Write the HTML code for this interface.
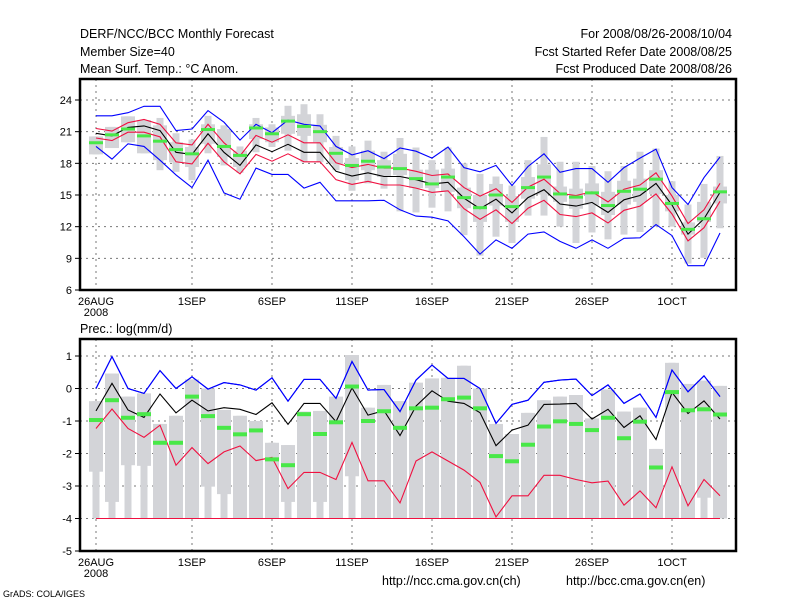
<!DOCTYPE html>
<html><head><meta charset="utf-8">
<style>
html,body{margin:0;padding:0;background:#fff;}
svg{display:block;font-family:"Liberation Sans",sans-serif;}
text{font-size:12.5px;fill:#000;}
.tk{font-size:11px;}
</style></head>
<body>
<svg id="chart" width="800" height="600" viewBox="0 0 800 600" xmlns="http://www.w3.org/2000/svg">
<g>
<text x="80" y="38">DERF/NCC/BCC Monthly Forecast</text>
<text x="80" y="56">Member Size=40</text>
<text x="80" y="73">Mean Surf. Temp.: °C Anom.</text>
<text x="732" y="38" text-anchor="end">For 2008/08/26-2008/10/04</text>
<text x="732" y="56" text-anchor="end">Fcst Started Refer Date 2008/08/25</text>
<text x="732" y="73" text-anchor="end">Fcst Produced Date 2008/08/26</text>
<text x="80" y="333">Prec.: log(mm/d)</text>
<text x="382" y="585">http://ncc.cma.gov.cn(ch)</text>
<text x="566" y="585">http://bcc.cma.gov.cn(en)</text>
<text x="3" y="597" style="font-size:9px">GrADS: COLA/IGES</text>
</g>
<g id="top"></g>
<g id="bot"></g>
</svg>
<script>
// ---- shared x axis ----
const xTickDays = [0, 6, 11, 16, 21, 26, 31, 36];
const xTickLabels = ["26AUG", "1SEP", "6SEP", "11SEP", "16SEP", "21SEP", "26SEP", "1OCT"];

// ---- temperature panel data ----
const tTicks = [6, 9, 12, 15, 18, 21, 24];
const tMean = [20.85,20.6,21.4,21.55,21.1,19.05,18.85,20.8,19.05,17.8,19.75,19.1,19.8,19.05,19.05,17.25,16.8,17.1,16.75,16.75,16.45,16.05,16.2,14.7,13.7,14.6,13.3,14.75,15.5,14.15,13.95,14.3,13.35,14.55,14.95,16.1,14.05,11.3,12.75,15.25];
const tRedUp = [21.3,21.05,21.85,22.15,21.7,19.95,19.75,21.7,19.95,18.7,20.65,20.0,20.7,19.95,19.95,18.05,17.6,17.9,17.55,17.55,17.25,16.85,17.0,15.7,14.9,15.6,14.3,15.75,16.5,15.15,14.95,15.3,14.35,15.55,15.95,17.1,14.9,12.3,13.6,16.1];
const tRedLo = [20.4,20.15,20.95,20.95,20.5,18.15,17.95,19.9,18.15,17.0,18.85,18.2,18.9,18.15,18.15,16.45,16.0,16.3,15.95,15.95,15.65,15.25,15.4,13.7,12.7,13.6,12.3,13.75,14.5,13.15,12.95,13.3,12.35,13.55,13.95,15.1,13.2,10.65,11.9,14.4];
const tMax = [22.5,22.5,22.8,23.4,23.4,21.1,21.25,23.0,21.9,20.2,21.7,20.9,22.1,21.7,21.55,19.6,18.8,19.2,18.45,19.45,19.15,18.5,19.55,17.6,17.2,17.8,15.9,17.7,18.9,17.15,17.5,17.5,16.2,17.6,18.5,19.35,15.7,14.1,16.65,18.6];
const tMin = [19.6,18.4,19.85,19.6,18.3,16.9,15.7,18.3,15.2,14.6,17.55,16.95,16.95,15.65,16.2,14.45,14.45,14.45,14.5,13.6,13.0,12.9,12.55,11.05,9.4,10.75,9.95,11.3,11.5,10.6,9.95,10.75,9.95,10.9,10.95,12.2,11.15,8.3,8.3,11.4];
const tObs = [19.95,20.7,21.25,20.6,20.1,19.3,18.9,21.2,19.6,18.75,21.35,20.8,22.0,21.5,21.0,18.95,17.8,18.2,17.65,17.5,16.55,16.05,16.7,14.75,13.8,15.0,13.9,15.7,16.7,15.1,14.8,15.2,14.0,15.35,15.55,16.5,14.2,11.75,12.75,15.3];
const tWhiskTop = [20.55,21.45,22.45,22.1,22.3,20.85,20.25,22.5,21.6,19.6,22.3,21.7,23.45,23.6,22.65,20.6,19.6,20.15,19.1,20.4,19.5,18.3,19.5,18.0,17.0,16.75,15.9,18.3,20.5,18.15,18.15,17.75,17.25,17.75,19.1,19.4,16.3,14.1,16.05,18.7];
const tWhiskBot = [18.85,19.45,20.0,18.95,17.35,17.2,16.4,18.95,17.8,17.1,19.05,19.55,19.2,18.1,18.1,17.35,15.4,16.1,15.6,13.45,13.35,13.8,13.45,11.2,9.25,11.05,10.45,13.05,13.05,12.0,10.45,11.45,10.8,11.25,11.5,12.0,12.0,8.5,9.05,11.85];
const tBoxTop = [20.55,21.45,22.45,22.1,21.6,20.0,19.55,21.7,21.25,19.2,21.7,21.4,22.5,22.65,21.65,19.55,18.5,19.2,18.3,18.9,17.4,17.4,17.5,15.7,15.0,16.05,14.9,16.7,17.9,15.8,15.6,16.1,15.3,16.35,16.55,17.35,15.0,12.4,14.35,15.8];
const tBoxBot = [18.85,19.45,20.0,18.95,18.3,18.1,17.65,19.85,18.6,17.65,20.3,20.0,20.8,20.6,20.0,17.95,16.4,17.35,16.7,16.9,15.65,15.65,15.3,13.75,12.45,14.0,12.45,14.65,15.05,14.35,13.7,14.05,13.1,14.1,14.35,15.1,13.45,11.25,12.45,14.2];

// ---- precipitation panel data ----
const pTicks = [-5, -4, -3, -2, -1, 0, 1];
const pMean = [-0.69,0.16,-0.66,-0.89,-0.17,-0.75,-0.36,-0.69,-0.59,-0.64,-0.8,-0.44,-1.1,-0.46,-0.46,-1.02,0.02,-0.82,-0.68,-1.45,-0.54,-0.07,-0.39,-0.46,-0.74,-1.76,-1.28,-1.13,-0.49,-0.48,-0.46,-0.94,-0.64,-1.2,-0.84,-1.57,-0.12,-0.77,-0.38,-0.94];
const pMax = [0.0,0.98,0.0,-0.15,0.55,0.0,0.36,-0.02,0.18,0.11,-0.05,0.33,-0.39,0.28,0.28,-0.3,0.83,-0.05,-0.03,-0.71,0.26,0.72,0.31,0.31,0.0,-1.07,-0.49,-0.36,0.19,0.26,0.29,-0.22,0.11,-0.46,-0.17,-0.89,0.57,-0.1,0.39,-0.25];
const pLow = [-1.23,-0.63,-1.23,-1.5,-1.13,-2.36,-1.82,-2.31,-1.95,-1.77,-2.22,-2.12,-3.08,-2.58,-2.58,-2.8,-1.66,-2.84,-2.84,-3.52,-2.23,-1.95,-2.23,-2.51,-2.89,-3.95,-3.3,-3.3,-2.67,-2.67,-2.8,-2.9,-2.85,-3.59,-3.15,-3.67,-2.41,-3.61,-2.8,-3.3];
const pMin = [-4,-4,-4,-4,-4,-4,-4,-4,-4,-4,-4,-4,-4,-4,-4,-4,-4,-4,-4,-4,-4,-4,-4,-4,-4,-4,-4,-4,-4,-4,-4,-4,-4,-4,-4,-4,-4,-4,-4,-4];
const pObs = [-0.97,-0.36,-0.9,-0.79,-1.67,-1.67,-0.25,-0.85,-1.21,-1.41,-1.29,-2.18,-2.36,-0.79,-1.4,-1.04,0.06,-1.0,-0.7,-1.21,-0.61,-0.59,-0.33,-0.28,-0.61,-2.08,-2.24,-1.73,-1.17,-1.01,-1.09,-1.28,-0.9,-1.53,-1.02,-2.43,-0.11,-0.67,-0.64,-0.8];
const pBarTop = [-0.39,0.46,-0.25,-0.15,-1.09,-0.84,0.28,0.0,-0.66,-0.84,-1.0,-1.67,-1.74,-0.71,-0.69,-0.25,1.03,-0.59,0.11,-0.39,0.18,0.31,0.33,0.7,0.0,-1.09,-1.4,-0.75,-0.36,-0.25,-0.2,-0.92,-0.03,-0.71,-0.59,-1.86,0.79,0.14,0.24,0.08];
const pBoxBot = [-2.56,-3.49,-2.36,-2.38,-4,-4,-4,-3.02,-3.25,-4,-4,-4,-3.49,-4,-3.49,-4,-2.7,-4,-4,-4,-4,-4,-4,-4,-4,-4,-4,-4,-4,-4,-4,-4,-4,-4,-4,-4,-4,-4,-3.36,-4];
const pBarBot = [-4,-4,-4,-4,-4,-4,-4,-4,-4,-4,-4,-4,-4,-4,-4,-4,-4,-4,-4,-4,-4,-4,-4,-4,-4,-4,-4,-4,-4,-4,-4,-4,-4,-4,-4,-4,-4,-4,-4,-4];

const NS = "http://www.w3.org/2000/svg";
const X0 = 80, X1 = 736;
const xS = d => 96 + 16 * d;
function mk(parent, tag, attrs) {
  const e = document.createElementNS(NS, tag);
  for (const k in attrs) e.setAttribute(k, attrs[k]);
  parent.appendChild(e);
  return e;
}

function panel(g, top, bottom, vmin, vmax, ticks, P) {
  const yS = v => bottom - (v - vmin) / (vmax - vmin) * (bottom - top - 20) - 0;
  // grid
  ticks.forEach(t => {
    const y = yS(t);
    const l = mk(g, "line", {x1: X0, x2: X1, y1: y, y2: y, stroke: "#777", "stroke-dasharray": "2,4", "stroke-width": 1});
    
    
    const tk = mk(g, "line", {x1: X0 - 5, x2: X0, y1: y, y2: y, stroke: "#000"});
    
    
    const tx = mk(g, "text", {x: X0 - 8, y: y + 4, "text-anchor": "end", class: "tk"});
    tx.textContent = t;
    
    
  });
  xTickDays.forEach((d, i) => {
    const x = xS(d);
    const l = mk(g, "line", {x1: x, x2: x, y1: top, y2: bottom, stroke: "#777", "stroke-dasharray": "2,4"});
    
    
    const tx = mk(g, "text", {x: x, y: bottom + 14, "text-anchor": "middle", class: "tk"});
    tx.textContent = xTickLabels[i];
    
    
  });
  const yr = mk(g, "text", {x: xS(0), y: bottom + 25, "text-anchor": "middle", class: "tk"});
  yr.textContent = "2008";
  
  
  // gray bars
  P.wt.forEach((v, i) => {
    const x = xS(i);
    const w = mk(g, "rect", {x: x - 3.5, y: yS(v), width: 7, height: yS(P.wb[i]) - yS(v), fill: "#d3d4d8"});
    
    
    const b = mk(g, "rect", {x: x - 7, y: yS(P.bt[i]), width: 14, height: yS(P.bb[i]) - yS(P.bt[i]), fill: "#d3d4d8"});
    
    
  });
  const line = (arr, col, name) => {
    const p = mk(g, "polyline", {points: arr.map((v, i) => xS(i) + "," + yS(v).toFixed(1)).join(" "), fill: "none", stroke: col, "stroke-width": 1.2});
    
    
  };
  line(P.lo, "#f01040", "lower-line");
  line(P.up, "#f01040", "upper-line");
  line(P.max, "#0000ff", "max-line");
  line(P.min, P.minCol, "min-line");
  line(P.mean, "#000", "mean-line");
  P.obs.forEach((v, i) => {
    const r = mk(g, "rect", {x: xS(i) - 7, y: yS(v) - P.gh / 2, width: 14, height: P.gh, fill: "#48e848"});
    
    
  });
  const f = mk(g, "rect", {x: X0, y: top, width: X1 - X0, height: bottom - top, fill: "none", stroke: "#000", "stroke-width": 2.5});
  
  
  return yS;
}

// top: 6 -> 290, 24 -> 100
(function () {
  const g = document.getElementById("top");
  const top = 79, bottom = 290;
  const yS = v => bottom - (v - 6) * (190 / 18);
  draw(g, top, bottom, yS, tTicks, {wt: tWhiskTop, wb: tWhiskBot, bt: tBoxTop, bb: tBoxBot, up: tRedUp, lo: tRedLo, max: tMax, min: tMin, minCol: "#0000ff", mean: tMean, obs: tObs, gh: 3});
})();
(function () {
  const g = document.getElementById("bot");
  const top = 339, bottom = 551;
  const yS = v => bottom - (v + 5) * 32.5;
  draw(g, top, bottom, yS, pTicks, {wt: pBarTop, wb: pBarBot, bt: pBarTop, bb: pBoxBot, up: pMax, lo: pLow, max: pMax, min: pMin, minCol: "#f01040", mean: pMean, obs: pObs, gh: 4});
})();

function draw(g, top, bottom, yS, ticks, P) {
  ticks.forEach(t => {
    const y = yS(t);
    if (t !== ticks[0]) {
      const l = mk(g, "line", {x1: X0, x2: X1, y1: y, y2: y, stroke: "#777", "stroke-dasharray": "2,4"});
      
      
    }
    const tk = mk(g, "line", {x1: X0 - 5, x2: X0, y1: y, y2: y, stroke: "#000"});
    
    
    const tx = mk(g, "text", {x: X0 - 8, y: y + 4, "text-anchor": "end", class: "tk"});
    tx.textContent = t;
    
    
  });
  xTickDays.forEach((d, i) => {
    const x = xS(d);
    const l = mk(g, "line", {x1: x, x2: x, y1: top, y2: bottom + 4, stroke: "#777", "stroke-dasharray": "2,4"});
    
    
    const tx = mk(g, "text", {x: x, y: bottom + 15, "text-anchor": "middle", class: "tk"});
    tx.textContent = xTickLabels[i];
    
    
  });
  const yr = mk(g, "text", {x: xS(0), y: bottom + 26, "text-anchor": "middle", class: "tk"});
  yr.textContent = "2008";
  
  
  P.wt.forEach((v, i) => {
    const x = xS(i);
    const w = mk(g, "rect", {x: x - 3.5, y: yS(v), width: 7, height: Math.max(0, yS(P.wb[i]) - yS(v)), fill: "#d3d4d8"});
    
    
    const b = mk(g, "rect", {x: x - 7, y: yS(P.bt[i]), width: 14, height: Math.max(0, yS(P.bb[i]) - yS(P.bt[i])), fill: "#d3d4d8"});
    
    
  });
  const line = (arr, col, name) => {
    const p = mk(g, "polyline", {points: arr.map((v, i) => xS(i) + "," + yS(v).toFixed(1)).join(" "), fill: "none", stroke: col, "stroke-width": 1.1});
    
    
  };
  line(P.lo, "#f01040", "lower-line");
  line(P.up, P.up === P.max ? "#0000ff" : "#f01040", "upper-line");
  line(P.max, "#0000ff", "max-line");
  line(P.min, P.minCol, "min-line");
  line(P.mean, "#000", "mean-line");
  P.obs.forEach((v, i) => {
    const r = mk(g, "rect", {x: xS(i) - 7, y: yS(v) - P.gh / 2, width: 14, height: P.gh, fill: "#48e848"});
    
    
  });
  const f = mk(g, "rect", {x: X0, y: top, width: X1 - X0, height: bottom - top, fill: "none", stroke: "#000", "stroke-width": 2.5});
  
  
}
</script>
</body></html>
